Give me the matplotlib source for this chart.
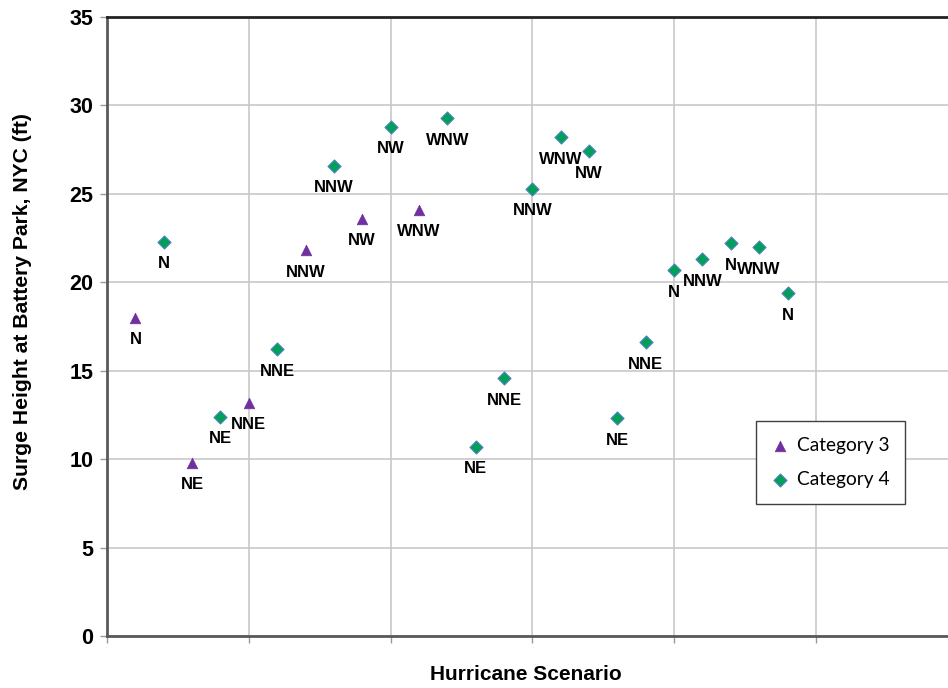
import numpy as np
import matplotlib
matplotlib.use("Agg")
import matplotlib.pyplot as plt

plt.rcParams['font.family'] = ['Liberation Sans', 'DejaVu Sans']

# Category 3 storms
cat3_x = [1, 3, 5, 7, 9, 11]
cat3_y = [18.0, 9.8, 13.2, 21.8, 23.6, 24.1]
cat3_dir = ["N", "NE", "NNE", "NNW", "NW", "WNW"]

# Category 4 storms
cat4_x = [2, 4, 6, 8, 10, 12, 13, 14, 15, 16, 17, 18, 19, 20, 21, 22, 23, 24]
cat4_y = [22.3, 12.4, 16.2, 26.6, 28.8, 29.3, 10.7, 14.6, 25.3, 28.2, 27.4,
          12.3, 16.6, 20.7, 21.3, 22.2, 22.0, 19.4]
cat4_dir = ["N", "NE", "NNE", "NNW", "NW", "WNW", "NE", "NNE", "NNW", "WNW", "NW",
            "NE", "NNE", "N", "NNW", "N", "WNW", "N"]

fig = plt.figure(figsize=(9.48, 6.88), dpi=100)
ax = fig.add_axes([0.1129, 0.0756, 0.8871, 0.8997])

ax.scatter(cat3_x, cat3_y, marker="^", s=58, color="#7030a0", edgecolors="#7030a0",
           linewidths=0.5, label="Category 3", zorder=3)
ax.scatter(cat4_x, cat4_y, marker="D", s=44, color="#00a05a", edgecolors="#4f81bd",
           linewidths=0.8, label="Category 4", zorder=3)

# direction labels under each point
for x, y, d in list(zip(cat3_x, cat3_y, cat3_dir)) + list(zip(cat4_x, cat4_y, cat4_dir)):
    ax.annotate(d, (x, y), xytext=(0, -16), textcoords="offset points",
                ha="center", va="center", fontsize=12, fontweight="bold", zorder=4)

ax.set_xlim(0, 29.66)
ax.set_ylim(0, 35)
ax.set_yticks(np.arange(0, 36, 5))
ax.set_xticks(np.arange(0, 30, 5))
ax.set_xticklabels([])
ax.grid(True, color="#c8c8c8", linewidth=1.2)
ax.set_axisbelow(True)

for lab in ax.get_yticklabels():
    lab.set_fontweight("bold")
ax.tick_params(axis="y", labelsize=15.5, length=5, width=1, color="#999999", pad=5)
ax.tick_params(axis="x", length=5, width=1, color="#999999")

ax.spines["right"].set_visible(False)
ax.spines["top"].set_color("#222222")
ax.spines["top"].set_linewidth(2)
ax.spines["left"].set_color("#595959")
ax.spines["left"].set_linewidth(2)
ax.spines["bottom"].set_color("#595959")
ax.spines["bottom"].set_linewidth(2)

ax.set_ylabel("Surge Height at Battery Park, NYC (ft)", fontsize=15.2, fontweight="bold", va="center")
ax.yaxis.set_label_coords(-0.101, 0.541)
ax.set_xlabel("Hurricane Scenario", fontsize=15, fontweight="bold", va="center")
ax.xaxis.set_label_coords(0.498, -0.063)

leg = ax.legend(loc="upper left", bbox_to_anchor=(0.772, 0.347), fancybox=False,
                prop={"family": "Lato", "size": 13.8}, handlelength=0.8, handletextpad=0.45,
                borderpad=0.85, labelspacing=0.85, borderaxespad=0, scatterpoints=1)
leg.get_frame().set_edgecolor("#404040")
leg.get_frame().set_linewidth(1)
leg.get_frame().set_alpha(1)

fig.savefig("out.png", dpi=100)
